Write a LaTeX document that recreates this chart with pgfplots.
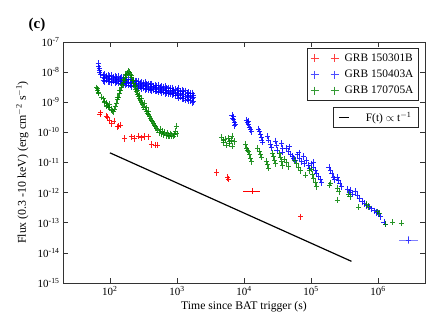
\documentclass[border=0pt]{standalone}
\usepackage{fontspec}
\setmainfont{Liberation Serif}
\usepackage{pgfplots}
\pgfplotsset{compat=1.18}
\usepackage{pgfplotstable}

\definecolor{grbred}{RGB}{255,0,0}
\definecolor{grbblue}{RGB}{0,0,255}
\definecolor{grbgreen}{RGB}{0,128,0}

\pgfplotsset{
  twoplus/.style={legend image code/.code={\draw[##1] plot coordinates {(0pt,0pt) (20pt,0pt)};}},
  shortline/.style={legend image code/.code={\draw[##1] (0pt,0pt) -- (10pt,0pt);}},
  grbmark/.style={only marks, mark=+, mark size=2.5pt, mark options={line width=0.8pt, yscale=1.3}},
}

% GRB 150301B
\pgfplotstableread{
t F
71 4.06e-10
72.8 4.48e-10
89.4 3.48e-10
93.4 3.06e-10
100 2.43e-10
106 1.99e-10
115 2.37e-10
128 1.53e-10
136 1.62e-10
144 1.75e-10
167 6.3e-11
210 7.1e-11
235 6.3e-11
263 7.5e-11
296 6.6e-11
331 7.4e-11
371 7.1e-11
417 4.0e-11
478 3.8e-11
512 3.8e-11
3930 4.7e-12
5720 3.2e-12
5860 2.8e-12
69000 1.57e-13
}\redtab

% GRB 150403A
\pgfplotstableread{
t F
67 1.9e-8
68 1.5e-8
69 1.3e-8
70 1.1e-8
71 9.5e-9
73 8.5e-9
79.4 7.83e-9
79.4 5.30e-9
79.4 6.67e-9
84.1 8.26e-9
84.1 4.86e-9
84.1 5.98e-9
89.1 7.10e-9
89.1 5.38e-9
89.1 6.47e-9
94.4 7.66e-9
94.4 4.83e-9
94.4 5.81e-9
100 7.36e-9
100 4.98e-9
100 6.27e-9
105.9 7.78e-9
105.9 4.58e-9
105.9 5.64e-9
112.2 6.67e-9
112.2 5.06e-9
112.2 6.08e-9
118.9 7.21e-9
118.9 4.55e-9
118.9 5.47e-9
125.9 6.93e-9
125.9 4.69e-9
125.9 5.90e-9
133.4 7.31e-9
133.4 4.31e-9
133.4 5.30e-9
141.3 6.27e-9
141.3 4.75e-9
141.3 5.71e-9
149.6 6.65e-9
149.6 4.20e-9
149.6 5.05e-9
158.5 6.30e-9
158.5 4.26e-9
158.5 5.36e-9
167.9 6.53e-9
167.9 3.85e-9
167.9 4.73e-9
177.8 5.51e-9
177.8 4.18e-9
177.8 5.02e-9
188.4 5.85e-9
188.4 3.69e-9
188.4 4.44e-9
199.5 5.53e-9
199.5 3.74e-9
199.5 4.71e-9
211.3 5.74e-9
211.3 3.38e-9
211.3 4.16e-9
223.9 4.84e-9
223.9 3.67e-9
223.9 4.42e-9
237.1 5.14e-9
237.1 3.24e-9
237.1 3.90e-9
251.2 4.86e-9
251.2 3.29e-9
251.2 4.14e-9
266.1 5.05e-9
266.1 2.97e-9
266.1 3.66e-9
281.8 4.26e-9
281.8 3.23e-9
281.8 3.88e-9
298.5 4.55e-9
298.5 2.87e-9
298.5 3.45e-9
316.2 4.34e-9
316.2 2.93e-9
316.2 3.69e-9
335.0 4.53e-9
335.0 2.67e-9
335.0 3.28e-9
354.8 3.84e-9
354.8 2.91e-9
354.8 3.50e-9
375.8 4.10e-9
375.8 2.59e-9
375.8 3.11e-9
398.1 3.91e-9
398.1 2.64e-9
398.1 3.33e-9
421.7 4.08e-9
421.7 2.40e-9
421.7 2.96e-9
446.7 3.46e-9
446.7 2.62e-9
446.7 3.16e-9
473.2 3.70e-9
473.2 2.33e-9
473.2 2.81e-9
501.2 3.52e-9
501.2 2.38e-9
501.2 3.00e-9
530.9 3.68e-9
530.9 2.17e-9
530.9 2.67e-9
562.3 3.12e-9
562.3 2.37e-9
562.3 2.84e-9
595.7 3.33e-9
595.7 2.10e-9
595.7 2.53e-9
631.0 3.18e-9
631.0 2.15e-9
631.0 2.70e-9
668.3 3.32e-9
668.3 1.95e-9
668.3 2.40e-9
707.9 2.81e-9
707.9 2.13e-9
707.9 2.56e-9
749.9 3.01e-9
749.9 1.90e-9
749.9 2.28e-9
794.3 2.86e-9
794.3 1.94e-9
794.3 2.44e-9
841.4 2.99e-9
841.4 1.76e-9
841.4 2.17e-9
891.3 2.52e-9
891.3 1.91e-9
891.3 2.30e-9
944.1 2.66e-9
944.1 1.68e-9
944.1 2.02e-9
1000 2.49e-9
1000 1.69e-9
1000 2.12e-9
1059 2.81e-9
1059 1.38e-9
1059 1.86e-9
1122 2.36e-9
1122 1.49e-9
1122 1.96e-9
1189 2.48e-9
1189 1.30e-9
1189 1.71e-9
1259 2.33e-9
1259 1.31e-9
1259 1.81e-9
1334 2.39e-9
1334 1.17e-9
1334 1.58e-9
1413 2.00e-9
1413 1.26e-9
1413 1.67e-9
1496 2.11e-9
1496 1.11e-9
1496 1.46e-9
1585 1.98e-9
1585 1.11e-9
1585 1.54e-9
1679 2.04e-9
1679 1.00e-9
1679 1.35e-9
1778 1.71e-9
1778 1.03e-9
1778 1.42e-9
6600 3.6e-10
6800 3.0e-10
7000 2.6e-10
7200 2.2e-10
7400 1.9e-10
7000 3.3e-10
7300 1.7e-10
10800 2.5e-10
11200 2.1e-10
11500 1.8e-10
12000 1.5e-10
12500 1.25e-10
13000 1.05e-10
11800 2.3e-10
16500 1.3e-10
17000 1.05e-10
17500 8.5e-11
18000 7.0e-11
18500 5.5e-11
19000 4.8e-11
22500 7.5e-11
23500 5.5e-11
24500 4.0e-11
25500 3.2e-11
29000 5.2e-11
30000 3.8e-11
31000 2.5e-11
36000 4.2e-11
37000 3.0e-11
38000 2.2e-11
43000 3.0e-11
46000 2.4e-11
49000 1.9e-11
52000 1.6e-11
55000 1.35e-11
58000 1.2e-11
48000 3.3e-11
63000 1.8e-11
68000 1.4e-11
72000 1.1e-11
76000 1.6e-11
80000 9.0e-12
85000 1.2e-11
90000 8.0e-12
95000 6.5e-12
66000 2.1e-11
102000 9.0e-12
108000 7.0e-12
115000 5.5e-12
122000 4.3e-12
130000 3.4e-12
138000 2.7e-12
145000 2.2e-12
110000 1.0e-11
185000 7.0e-12
195000 5.5e-12
205000 4.2e-12
215000 3.3e-12
225000 2.7e-12
245000 3.2e-12
255000 2.5e-12
270000 2.0e-12
280000 1.6e-12
350000 1.3e-12
370000 1.05e-12
390000 1.2e-12
420000 9.0e-13
460000 1.1e-12
490000 8.0e-13
520000 6.5e-13
580000 5.0e-13
630000 4.3e-13
680000 3.8e-13
740000 3.3e-13
800000 2.9e-13
870000 2.5e-13
940000 2.2e-13
1020000 2.0e-13
1080000 1.6e-13
1220000 1.05e-13
1300000 9.0e-14
}\bluetab

% GRB 170705A
\pgfplotstableread{
t F
64 3.0e-9
65.5 2.5e-9
66 2.8e-9
67 2.2e-9
68.5 2.0e-9
76 1.5e-9
80 1.3e-9
84 1.1e-9
88 9.5e-10
92 8.0e-10
96 7.0e-10
100 6.5e-10
104 5.8e-10
108 5.2e-10
112 4.8e-10
82 1.0e-9
90 7.5e-10
98 8.5e-10
116 6.0e-10
120 7.5e-10
125 9.5e-10
130 1.2e-9
135 1.5e-9
140 1.9e-9
145 2.4e-9
150 3.0e-9
155 3.7e-9
160 4.5e-9
166 5.5e-9
172 6.7e-9
178 8.0e-9
185 9.3e-9
191 1.03e-8
128 1.5e-9
138 2.4e-9
148 3.8e-9
158 5.7e-9
170 8.5e-9
195 1.0e-8
202 8.2e-9
209 6.7e-9
216 5.3e-9
223 4.2e-9
230 3.4e-9
238 2.7e-9
246 2.25e-9
255 1.85e-9
264 1.55e-9
274 1.3e-9
285 1.12e-9
296 1.0e-9
308 8.3e-10
320 7.0e-10
333 5.9e-10
346 5.0e-10
360 4.4e-10
374 4.0e-10
388 3.4e-10
403 2.9e-10
418 2.55e-10
434 2.25e-10
450 1.95e-10
467 1.7e-10
485 1.55e-10
500 1.4e-10
212 8.0e-9
226 5.5e-9
242 3.6e-9
260 2.5e-9
280 1.7e-9
300 1.3e-9
326 9.0e-10
352 6.5e-10
380 5.0e-10
520 1.2e-10
540 1.0e-10
560 1.25e-10
585 9.0e-11
610 1.1e-10
635 8.5e-11
660 1.0e-10
690 8.0e-11
720 9.5e-11
750 8.0e-11
780 7.5e-11
810 9.0e-11
840 8.0e-11
880 7.5e-11
920 8.5e-11
960 1.05e-10
980 1.6e-10
1000 9.0e-11
4600 7.0e-11
4900 4.5e-11
5200 6.0e-11
5500 3.8e-11
5800 6.5e-11
6100 4.2e-11
6400 5.5e-11
6800 3.5e-11
7200 5.0e-11
5000 5.5e-11
6000 5.0e-11
6600 7.5e-11
10500 4.0e-11
11000 3.0e-11
11500 2.3e-11
12000 1.8e-11
12500 1.4e-11
13000 1.1e-11
11200 2.6e-11
16000 3.0e-11
16800 2.4e-11
17500 1.9e-11
18200 1.5e-11
21500 1.1e-11
22500 8.5e-12
23500 6.5e-12
26500 2.0e-11
27500 1.6e-11
28500 1.2e-11
29500 9.0e-12
34000 2.0e-11
35000 1.5e-11
36000 1.1e-11
37000 8.0e-12
40000 1.3e-11
43000 1.0e-11
46000 7.5e-12
56000 1.2e-11
60000 9.0e-12
65000 7.0e-12
70000 5.5e-12
83000 3.8e-12
95000 5.5e-12
100000 6.0e-12
105000 4.0e-12
110000 3.0e-12
115000 2.2e-12
120000 1.6e-12
187000 1.78e-12
195000 2.1e-12
250000 1.4e-12
260000 1.1e-12
245000 5.6e-13
360000 9.0e-13
380000 7.5e-13
510000 3.3e-13
680000 4.0e-13
720000 3.5e-13
980000 2.3e-13
1050000 2.0e-13
1300000 9.0e-14
1660000 1.05e-13
2200000 9.7e-14
}\greentab

\begin{document}
\begin{tikzpicture}
\path (-63pt,-49pt) rectangle (380pt,283pt);
\node[font=\fontsize{15}{15}\selectfont\bfseries] at (-26pt,258pt) {(c)};
\begin{axis}[
    name=ax, at={(0,0)}, anchor=south west,
    scale only axis, width=362pt, height=241pt,
    xmode=log, ymode=log, log basis x=10, log basis y=10,
    xmin=20, xmax=5e6, ymin=1e-15, ymax=1e-7,
    xtick={1e2,1e3,1e4,1e5,1e6},
    ytick={1e-15,1e-14,1e-13,1e-12,1e-11,1e-10,1e-9,1e-8,1e-7},
    xticklabel={10\textsuperscript{\pgfmathparse{int(round(\tick))}\pgfmathresult}},
    yticklabel={10\textsuperscript{\pgfmathparse{int(round(\tick))}\pgfmathresult}},
    ticklabel style={font=\fontsize{11}{11}\selectfont},
    tick align=inside,
    major tick length=5pt, minor tick length=3pt,
    axis line style={line width=0.9pt, black!80},
    every tick/.style={black!80, line width=0.7pt},
    xlabel={Time since BAT trigger (s)},
    ylabel={Flux (0.3 -10 keV) (erg cm\textsuperscript{$-$2} s\textsuperscript{$-$1})},
    every axis x label/.style={at={(rel axis cs:0.5,0)}, anchor=north, yshift=-15pt,
        font=\fontsize{11.7}{12}\selectfont},
    every axis y label/.style={at={(rel axis cs:0,0.5)}, xshift=-31pt, rotate=90, anchor=south,
        font=\fontsize{11.9}{12}\selectfont},
    legend style={at={(0.983,0.975)}, anchor=north east, draw=black!85, line width=0.8pt,
        font=\fontsize{11.4}{13}\selectfont, row sep=3pt, inner xsep=3pt, inner ysep=3.5pt},
    legend cell align=left,
]
\addlegendimage{only marks, mark=+, grbred!75, mark size=4pt, mark options={line width=0.7pt}, twoplus}
\addlegendentry{\hspace{4pt}GRB 150301B}
\addlegendimage{only marks, mark=+, grbblue!70, mark size=4pt, mark options={line width=0.7pt}, twoplus}
\addlegendentry{\hspace{4pt}GRB 150403A}
\addlegendimage{only marks, mark=+, grbgreen!80, mark size=4pt, mark options={line width=0.7pt}, twoplus}
\addlegendentry{\hspace{4pt}GRB 170705A}

\addplot[forget plot, grbmark, grbblue, opacity=0.85] table[x=t, y=F] {\bluetab};
\addplot[forget plot, grbmark, grbgreen, opacity=0.85] table[x=t, y=F] {\greentab};
\addplot[forget plot, grbmark, grbred, opacity=0.9] table[x=t, y=F] {\redtab};
\addplot[forget plot, grbmark, grbred,
    error bars/.cd, x dir=both, x explicit, error mark=none,
    error bar style={grbred, line width=0.8pt}]
    coordinates {(13500,1.12e-12) +- (4000,0)};
\addplot[forget plot, grbmark, grbblue!80,
    error bars/.cd, x dir=both, x explicit, y dir=both, y explicit, error mark=none,
    error bar style={grbblue!50, line width=1pt}]
    coordinates {(2.8e6,2.64e-14) += (1.1e6,1.0e-14) -= (0.75e6,0.7e-14)};
\addplot[forget plot, black, line width=1.2pt] coordinates {(100,2.1e-11) (4e5,5.25e-15)};
\end{axis}
\begin{axis}[
    at={(0,0)}, anchor=south west,
    scale only axis, width=362pt, height=241pt,
    xmode=log, ymode=log,
    xmin=20, xmax=5e6, ymin=1e-15, ymax=1e-7,
    hide axis,
    legend style={at={(0.983,0.732)}, anchor=north east, draw=black!85, line width=0.8pt,
        font=\fontsize{11.4}{13}\selectfont, inner xsep=5pt, inner ysep=3pt},
]
\addlegendimage{black, line width=1.2pt, shortline}
\addlegendentry{\hspace{14pt}F(t) $\propto$ t\textsuperscript{$-$1}}
\end{axis}
\end{tikzpicture}
\end{document}
